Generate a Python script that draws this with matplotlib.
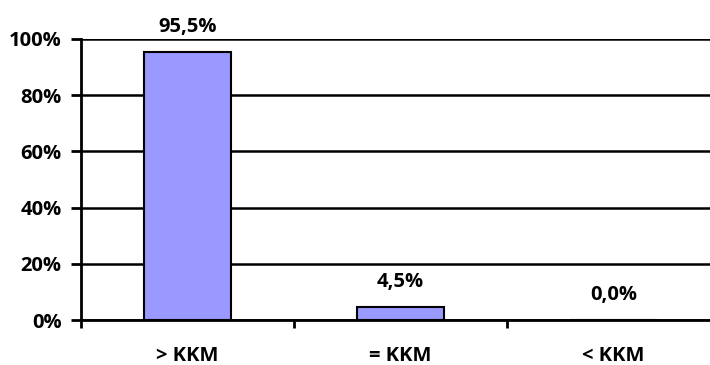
import matplotlib
matplotlib.use("Agg")
import matplotlib.pyplot as plt

categories = ["> KKM", "= KKM", "< KKM"]
values = [95.5, 4.5, 0.0]
labels = ["95,5%", "4,5%", "0,0%"]
yticks = [0, 20, 40, 60, 80, 100]
ytick_labels = ["0%", "20%", "40%", "60%", "80%", "100%"]

plt.rcParams['font.family'] = ['Open Sans', 'DejaVu Sans']
plt.rcParams['font.weight'] = 'bold'

fig = plt.figure(figsize=(7.1, 3.65), dpi=100)
W, H = 710, 365
left, right = 81, 81 + 3 * 213
top, bottom = 39, 320
ax = fig.add_axes([left / W, 1 - bottom / H, (right - left) / W, (bottom - top) / H])

FS = 14.5
x = list(range(len(categories)))
ax.bar(x, values, width=0.41, color="#9999FF", edgecolor="black", linewidth=1.5, zorder=3)
ax.set_xlim(-0.5, 2.5)
ax.set_ylim(0, 100)
ax.set_yticks(yticks)
ax.set_yticklabels(ytick_labels, fontsize=FS, fontweight='bold')
ax.yaxis.grid(True, color="black", linewidth=1.8, zorder=0)
ax.set_xticks([-0.5, 0.5, 1.5, 2.5])
ax.set_xticklabels([])
ax.set_xticks(x, minor=True)
ax.set_xticklabels(categories, minor=True, fontsize=FS, fontweight='bold')
ax.tick_params(axis='x', which='minor', length=0, pad=19)
ax.tick_params(axis='x', which='major', length=6, width=2, direction='out')
ax.tick_params(axis='y', length=7, width=2, pad=7)
for s in ['top', 'right']:
    ax.spines[s].set_visible(False)
for s in ['left', 'bottom']:
    ax.spines[s].set_linewidth(2)

for xi, v, lab in zip(x, values, labels):
    ax.annotate(lab, (xi, v), xytext=(0, 18), textcoords='offset points',
                ha='center', va='center', fontsize=FS, fontweight='bold')

fig.savefig("out.png", dpi=100)
